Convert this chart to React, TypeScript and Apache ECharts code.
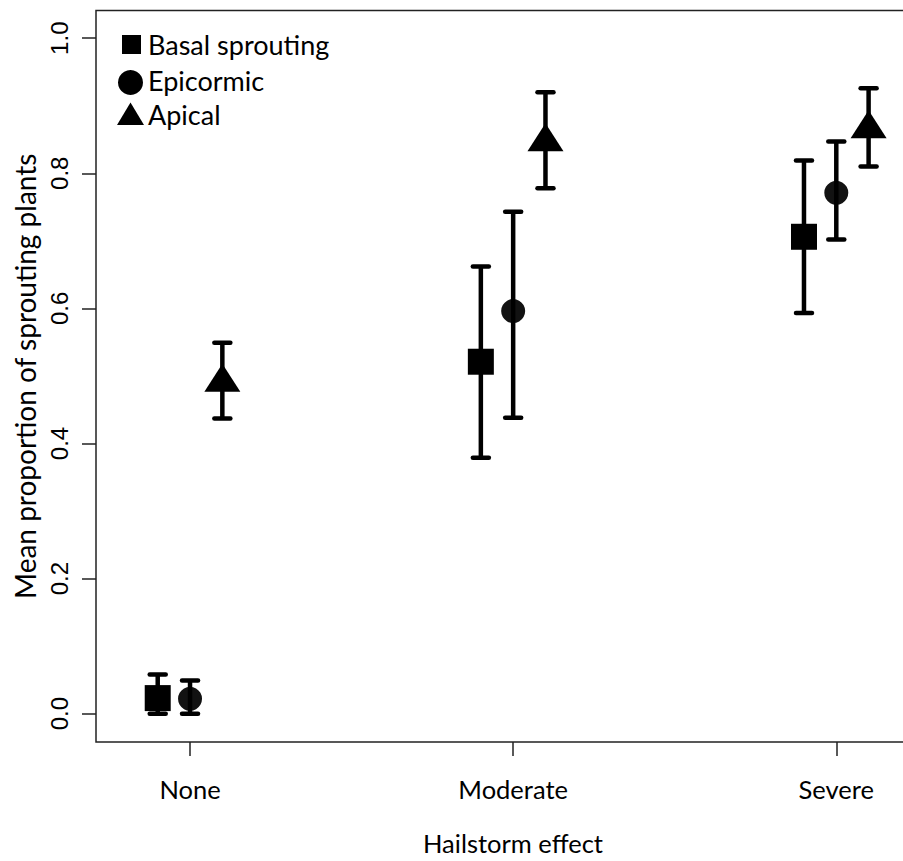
import React, { useEffect, useRef } from "react";
import * as echarts from "echarts";

const categories = ["None", "Moderate", "Severe"];
const yTicks = [0, 0.2, 0.4, 0.6, 0.8, 1.0];

const basalMean = [0.023, 0.521, 0.706];
const basalLow = [0.0, 0.379, 0.593];
const basalHigh = [0.058, 0.662, 0.819];

const epicMean = [0.022, 0.596, 0.771];
const epicLow = [0.0, 0.438, 0.702];
const epicHigh = [0.049, 0.743, 0.847];

const apicalMean = [0.493, 0.849, 0.868];
const apicalLow = [0.437, 0.778, 0.81];
const apicalHigh = [0.549, 0.92, 0.926];

const seriesNames = ["Basal sprouting", "Epicormic", "Apical"];

const SANS = "Lato, 'Open Sans', 'Noto Sans', sans-serif";
const NARROW = "'Liberation Sans Narrow', 'Liberation Sans', Arial, sans-serif";

export default function App() {
  const ref = useRef<HTMLDivElement>(null);

  useEffect(() => {
    if (!ref.current) return;
    const chart = echarts.init(ref.current, null, { renderer: "svg" });

    const offsets = [-0.1, 0, 0.1];
    const means = [basalMean, epicMean, apicalMean];
    const lows = [basalLow, epicLow, apicalLow];
    const highs = [basalHigh, epicHigh, apicalHigh];

    const errorSeries = means.map((_, s) => ({
      type: "custom",
      name: seriesNames[s] + " error",
      z: 2,
      silent: true,
      encode: { x: 0, y: [1, 2] },
      data: categories.map((_, i) => [i + 1 + offsets[s], lows[s][i], highs[s][i]]),
      renderItem: (params: any, api: any) => {
        const x = api.value(0);
        const lo = api.coord([x, api.value(1)]);
        const hi = api.coord([x, api.value(2)]);
        const cw = 8;
        const st = { stroke: "#000", lineWidth: 4.5, lineCap: "round" };
        return {
          type: "group",
          children: [
            { type: "line", shape: { x1: lo[0], y1: lo[1], x2: hi[0], y2: hi[1] }, style: { stroke: "#000", lineWidth: 4.5 } },
            { type: "line", shape: { x1: lo[0] - cw, y1: lo[1], x2: lo[0] + cw, y2: lo[1] }, style: st },
            { type: "line", shape: { x1: hi[0] - cw, y1: hi[1], x2: hi[0] + cw, y2: hi[1] }, style: st },
          ],
        };
      },
    }));

    const symbols = ["rect", "circle", "triangle"];
    const sizes: any[] = [26, 24, [36, 28]];
    const symOffsets: any[] = [[0, 0], [0, 0], [0, -3]];
    const colors = ["#000", "rgba(0,0,0,0.93)", "#000"];

    const pointSeries = means.map((m, s) => ({
      type: "scatter",
      name: seriesNames[s],
      z: 3,
      symbol: symbols[s],
      symbolSize: sizes[s],
      symbolOffset: symOffsets[s],
      itemStyle: { color: colors[s], opacity: 1 },
      data: categories.map((_, i) => [i + 1 + offsets[s], m[i]]),
    }));

    const legendY = [44, 80, 114];
    chart.setOption({
      animation: false,
      grid: {
        left: 96,
        top: 10.5,
        right: 0,
        bottom: 117,
        show: true,
        borderColor: "#222",
        borderWidth: 1.5,
        backgroundColor: "transparent",
      },
      xAxis: {
        type: "value",
        min: 0.709,
        max: 3.29,
        splitLine: { show: false },
        axisLine: { show: false, onZero: false },
        axisTick: { show: true, customValues: [1, 2, 3], length: 14, lineStyle: { color: "#222", width: 1.5 } },
        axisLabel: {
          customValues: [1, 2, 3],
          formatter: (v: number) => categories[Math.round(v) - 1],
          margin: 34,
          fontFamily: SANS,
          fontSize: 25.5,
          color: "#000",
        },
        name: "Hailstorm effect",
        nameLocation: "middle",
        nameGap: 88,
        nameTextStyle: { fontFamily: SANS, fontSize: 25.5, color: "#000" },
      },
      yAxis: {
        type: "value",
        min: -0.042,
        max: 1.041,
        splitLine: { show: false },
        axisLine: { show: false, onZero: false },
        axisTick: { show: true, customValues: yTicks, length: 14, lineStyle: { color: "#222", width: 1.5 } },
        axisLabel: {
          customValues: yTicks,
          formatter: (v: number) => v.toFixed(1),
          rotate: 90,
          margin: 25,
          fontFamily: NARROW,
          fontSize: 24,
          color: "#000",
        },
        name: "Mean proportion of sprouting plants",
        nameLocation: "middle",
        nameGap: 53,
        nameTextStyle: { fontFamily: SANS, fontSize: 28, color: "#000" },
      },
      graphic: [
        { type: "rect", shape: { x: 122, y: 35, width: 19, height: 19 }, style: { fill: "#000" } },
        { type: "circle", shape: { cx: 130.5, cy: 82.5, r: 12.5 }, style: { fill: "#000" } },
        { type: "polygon", shape: { points: [[130.5, 102.5], [117, 125], [144, 125]] }, style: { fill: "#000" } },
        ...seriesNames.map((n, i) => ({
          type: "text",
          x: 148,
          y: legendY[i],
          style: { text: n, font: `27px ${SANS}`, fill: "#000", verticalAlign: "middle", align: "left" },
        })),
      ],
      series: [...errorSeries, ...pointSeries],
    });

    return () => chart.dispose();
  }, []);

  return (
    <div style={{ position: "absolute", left: 0, top: 0, width: 903, height: 861, overflow: "hidden" }}>
      <div ref={ref} style={{ width: 930, height: 861 }} />
    </div>
  );
}
